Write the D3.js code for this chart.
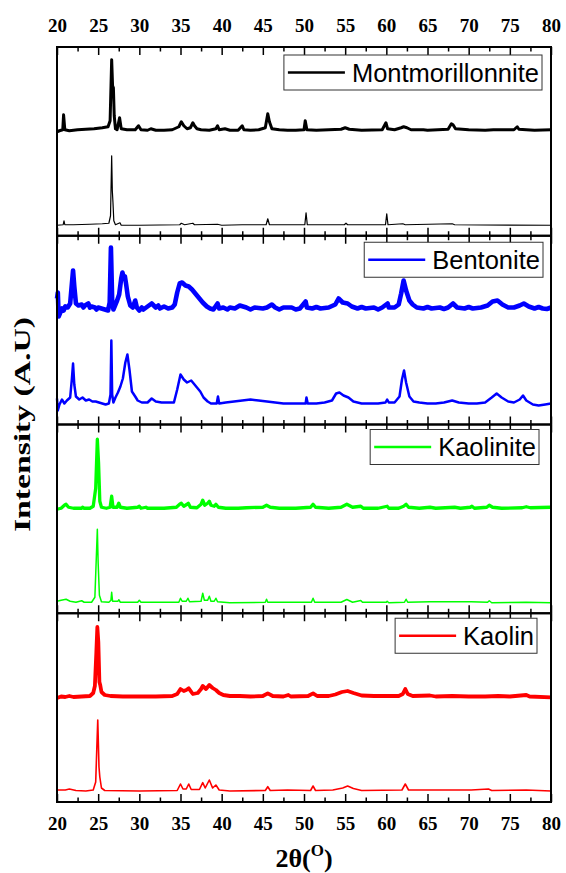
<!DOCTYPE html>
<html><head><meta charset="utf-8">
<script src="https://cdn.jsdelivr.net/npm/d3@7"></script>
<style>html,body{margin:0;padding:0;background:#fff;}svg{display:block;}</style>
</head><body><div id="chart"></div>
<script>
// ---------- DATA (2θ in degrees, intensity in arbitrary units) ----------
const majorTicks = [20,25,30,35,40,45,50,55,60,65,70,75,80];
const minorTicks = [22.5,27.5,32.5,37.5,42.5,47.5,52.5,57.5,62.5,67.5,72.5,77.5];
const sampleNames = ["Montmorillonnite","Bentonite","Kaolinite","Kaolin"];
const sampleColors = ["#000000","#0000ff","#00ff00","#ff0000"];

const montUpper = [[20,104],[20.3,105],[20.7,106],[20.8,121],[20.95,106],[21.5,105],[22.5,106],[23.5,106.5],[24.5,107],[25.5,108],[26.2,109],[26.45,115],[26.64,176],[26.75,150],[26.85,148],[26.95,120],[27.1,107],[27.3,106],[27.6,118],[27.8,107],[28.5,106],[29.5,106],[29.9,110],[30.2,106],[31,105.5],[31.4,107],[32,105.5],[33,105.5],[34,106],[34.8,109],[35.1,114],[35.4,110],[35.8,107],[36.2,108],[36.5,113],[36.7,110],[37,107],[37.5,106],[38.5,105.5],[39.3,107],[39.5,110],[39.7,106],[40.4,107],[41,105.5],[42,105.5],[42.5,110],[42.7,106],[43.5,105.5],[44.5,106],[45.3,108],[45.6,122],[45.8,114],[46.1,107],[47,106],[48,105.5],[49,105.5],[50,106],[50.15,115],[50.35,106],[51.5,105.5],[53,106],[54.5,106.5],[55,108],[55.5,106.5],[57,105.5],[59.5,106],[59.95,113],[60.15,107],[61,106],[61.8,108],[62.1,109],[62.5,108],[63,106],[64.5,106],[65,105.5],[67.5,106.5],[67.9,112],[68.1,111],[68.4,107],[70,106],[72,105.5],[73,106],[75.5,106],[75.9,109],[76.1,106.5],[77,106],[78,105.5],[80,106]];
const montLower = [[20,10.5],[20.75,11],[20.85,15],[20.95,11],[22,11],[24,11.5],[25.5,12],[26.3,12.5],[26.5,20],[26.64,80],[26.72,45],[26.8,33],[26.9,15],[27.1,11],[27.65,13],[27.8,10.5],[30,10.5],[34.9,11],[35.1,12.5],[35.5,11],[36.5,12.5],[36.7,11],[39.5,11.5],[40,10.5],[42.5,11],[45.4,11],[45.6,17],[45.8,11],[50.1,11],[50.25,23],[50.4,11],[54.9,11],[55.1,12.5],[55.3,11],[59.9,11],[60.05,22],[60.2,11],[62,12],[62.3,11],[68,12],[68.3,11],[80,10.5]];

const bentUpper = [[20.0,126],[20.1,132],[20.2,108],[20.4,112],[20.6,116],[20.8,114],[21.0,118],[21.3,117],[21.6,121],[21.8,140],[21.95,154],[22.1,138],[22.3,121],[22.6,119],[23.0,120],[23.2,117],[23.4,119],[23.8,121],[24.0,117],[24.2,118],[24.6,117],[24.8,115],[25.0,117],[25.4,116],[25.8,115],[26.2,114],[26.4,122],[26.55,177],[26.7,124],[26.85,115],[27.1,120],[27.3,124],[27.55,130],[27.8,146],[27.95,152],[28.1,147],[28.25,148],[28.4,140],[28.6,128],[28.9,119],[29.2,117],[29.5,124],[29.7,117],[30.0,114],[30.3,117],[30.5,115],[31.0,118],[31.5,121],[32.0,117],[32.3,119],[32.5,116],[33.0,118],[33.5,116],[34.0,117],[34.3,120],[34.6,132],[34.9,141],[35.2,142],[35.6,139],[36.0,138],[36.4,135],[36.8,131],[37.2,127],[37.7,122],[38.2,118],[38.6,116],[39.0,115],[39.5,121],[39.7,116],[40.2,117],[40.7,115],[41.0,117],[41.6,116],[42.2,119],[43,117],[43.5,115],[44,117],[45,116],[45.5,117],[46.1,120],[46.5,117],[47.0,115],[47.5,117],[48.5,117],[49.0,115],[49.5,116],[50.2,123],[50.35,117],[51,116],[51.5,117.5],[52,116],[53,117],[53.8,120],[54.2,126],[54.7,122],[55.3,121],[55.8,118],[56.5,116],[57.0,117.5],[57.5,116],[58.5,117],[59.0,115],[59.5,117],[60.15,121],[60.3,117],[61,117],[61.5,120],[61.8,131],[62.1,144],[62.4,134],[62.8,124],[63.2,120],[63.7,117],[64.5,116],[65.0,117.5],[65.5,116],[66.5,117],[67.0,115.5],[67.5,117],[68.1,121],[68.6,117],[69.5,116],[70.0,117.5],[70.5,116],[71.5,117],[72.3,119],[72.9,123],[73.5,124],[74.1,120],[74.8,117],[75.5,117],[76.2,119],[76.7,121],[77.3,118],[78,116],[78.5,117.5],[79,116],[79.5,115.5],[80,117]];
const bentLower = [[20.0,26],[20.1,14],[20.3,20],[20.6,25],[20.9,21],[21.2,24],[21.6,27],[21.8,45],[21.95,61],[22.1,40],[22.3,28],[22.7,25],[23.1,27],[23.5,24],[23.9,25],[24.3,23],[24.7,23],[25.1,22],[25.5,21],[25.9,20],[26.3,21],[26.5,30],[26.6,84],[26.7,30],[26.85,22],[27.1,27],[27.4,32],[27.7,38],[28.0,46],[28.3,62],[28.55,70],[28.8,55],[29.1,33],[29.5,28],[29.8,24],[30.3,22],[31.0,22],[31.5,26],[32,23],[32.7,22],[33.5,22],[34.2,22],[34.6,35],[35.0,50],[35.4,45],[35.8,42],[36.3,44],[36.7,40],[37.0,37],[37.4,33],[37.8,27],[38.3,23],[38.7,21],[39.4,21],[39.55,28],[39.7,21],[40.5,22],[41.5,23],[42.5,24],[43.5,25],[44.5,24],[45.5,23],[46.5,22],[47.5,21],[48.5,21],[49.5,21],[50.2,21],[50.3,27],[50.45,21],[51.5,21],[52.5,22],[53.4,24],[53.9,31],[54.3,32],[54.8,29],[55.4,27],[56,23],[57,21],[58,21],[59,21],[59.9,22],[60.1,25],[60.3,22],[61,22],[61.6,28],[61.9,45],[62.15,54],[62.4,42],[62.8,28],[63.3,23],[64,22],[65,21],[66,21],[67,22],[68,24],[68.8,22],[70,21],[71,21],[72,22],[72.8,27],[73.4,31],[74,27],[74.8,23],[75.5,22],[76.2,25],[76.6,29],[77,24],[77.8,20],[78.5,19],[79.3,20],[80,21]];

const kaoliniteUpper = [[20,104],[20.5,105],[20.9,108],[21.1,109],[21.4,106],[22,105],[23,105],[23.1,106],[23.3,105],[24,105],[24.4,107],[24.7,125],[24.9,174],[25.05,150],[25.2,112],[25.4,106],[26,105],[26.45,106],[26.64,117],[26.8,106],[27.3,106],[27.5,110],[27.7,106],[28.5,105],[29.8,106],[30.0,107],[30.2,105],[30.8,106],[31,105],[33,105],[34.5,106],[34.9,109],[35.1,110],[35.4,107],[35.8,109],[35.95,110],[36.2,106],[37,105.5],[37.5,109],[37.7,113],[37.95,108],[38.3,110],[38.5,112],[38.7,108],[39.1,107],[39.3,109],[39.6,106],[40.5,105],[42,105],[43,105.5],[45,106],[45.45,108],[45.9,106],[47,105],[49,105],[50.8,106],[51.1,109],[51.4,106],[53,105],[54.5,106],[55.2,109],[55.9,106],[56.9,107],[57.2,105],[59,105],[60.1,107],[60.3,105],[61.5,105],[62.1,107],[62.4,109],[62.7,106],[64,105],[65.3,106],[66,105],[68.3,106],[69,105],[70.2,106],[70.4,107],[70.7,105],[72.2,106],[72.5,108],[72.9,106],[74,105],[76.5,105.5],[77,106.5],[77.5,105.5],[80,106]];
const kaoliniteLower = [[20,12],[20.5,13],[21.1,14],[21.6,12],[22.3,11],[23.0,12.5],[23.3,11],[24.2,11],[24.6,16],[24.9,84],[25.0,50],[25.15,18],[25.4,11.5],[26.3,11],[26.55,13],[26.64,21],[26.75,12],[27.4,12],[27.5,13.5],[27.7,11],[29.8,11],[30,13],[30.2,11],[34.8,11],[35.0,15],[35.2,12],[35.7,12],[35.9,15],[36.1,11.5],[37.5,12],[37.7,20],[37.9,13],[38.3,13],[38.5,17],[38.7,12],[39.1,12],[39.3,15],[39.5,11.5],[41,10.5],[45.3,11],[45.45,14],[45.6,11],[50.9,11],[51.1,15],[51.3,11],[54.5,11],[55.2,13.7],[55.9,11],[56.9,12.7],[57.1,11],[60.0,11],[60.1,12],[60.3,10.5],[62.2,11],[62.4,14],[62.6,11],[65.3,11.5],[70.3,11.5],[72.3,11],[72.5,12.5],[72.8,10.5],[77,11],[80,10.5]];

const kaolinUpper = [[20,104],[20.5,105.5],[21,105],[21.5,106],[22,105],[23,105.5],[24,106],[24.4,109],[24.6,116],[24.78,150],[24.9,175],[25.02,160],[25.15,120],[25.25,117],[25.4,110],[25.8,107],[26.5,106],[28,105.5],[30,105.5],[32,105.5],[34,106],[34.6,108],[35.0,113],[35.4,111],[35.7,112],[36.0,113.7],[36.5,108],[37.1,109],[37.5,113],[37.7,116],[38.1,113],[38.5,117],[38.9,114],[39.3,112],[39.7,109],[40.2,107],[41,106],[42.2,106],[43.5,105.5],[45,106],[45.6,108.7],[46.2,106],[47.5,105.5],[48.1,107],[48.4,105.5],[50.5,106],[51.1,108.7],[51.6,106],[53,106],[53.8,107.5],[54.6,110],[55.3,111],[56,109],[57,106.5],[58.5,106],[60,106],[61.5,106],[62,108],[62.3,113],[62.6,108],[63.2,106],[65.3,106.5],[66,105.5],[68,106],[70,105.5],[72,105.5],[73.6,106],[75,105.5],[77,107],[77.4,105.5],[80,104.7]];
const kaolinLower = [[20,12],[21,12],[21.5,13],[22.3,11.5],[23.5,11],[24.4,12],[24.7,20],[24.95,82],[25.1,35],[25.2,25],[25.4,14],[25.8,11.5],[30,11],[34.6,11.5],[35.0,18],[35.3,13],[35.7,13],[36.0,18],[36.3,12.5],[37.3,12.5],[37.7,19.3],[38.0,14],[38.5,22],[38.9,14],[39.3,17],[39.7,12],[41,11],[45.3,11.5],[45.6,15.3],[45.9,11.5],[48,12],[50.8,11.5],[51.1,16],[51.4,11.5],[53.5,12],[54.7,14],[55.3,16],[56,13.5],[57,11.5],[61.9,12],[62.3,18],[62.7,12],[65.3,12],[70.3,12],[72.4,13],[72.8,11.5],[77,12],[80,11]];

const upperSeries = [montUpper, bentUpper, kaoliniteUpper, kaolinUpper];
const lowerSeries = [montLower, bentLower, kaoliniteLower, kaolinLower];

// ---------- LAYOUT ----------
const W = 566, H = 873;
const plotLeft = 57, plotRight = 551, plotTop = 47, plotBottom = 802;
const panelH = (plotBottom - plotTop) / 4;
const upperWidth = [3.0, 4.6, 3.3, 3.8];
const lowerWidth = [1.2, 2.5, 1.5, 1.6];
const legendRight = [542, 543, 539, 537];
const legendTopOff = [8, 6.5, 5, 5];

const svg = d3.select("#chart").append("svg").attr("width", W).attr("height", H);
const x = d3.scaleLinear().domain([20, 80]).range([plotLeft, plotRight]);

sampleNames.forEach((name, i) => {
  const pTop = plotTop + i * panelH, pBot = pTop + panelH;
  const y = d3.scaleLinear().domain([0, panelH]).range([pBot, pTop]);
  const g = svg.append("g");
  const line = d3.line().x(d => x(d[0])).y(d => y(d[1]));
  g.append("path").datum(lowerSeries[i]).attr("d", line)
    .attr("fill", "none").attr("stroke", sampleColors[i])
    .attr("stroke-width", lowerWidth[i]).attr("stroke-linejoin", "round");
  g.append("path").datum(upperSeries[i]).attr("d", line)
    .attr("fill", "none").attr("stroke", sampleColors[i])
    .attr("stroke-width", upperWidth[i]).attr("stroke-linejoin", "round");

  const addTicks = (vals, len) => {
    g.append("g").attr("transform", `translate(0,${pTop})`)
      .call(d3.axisBottom(x).tickValues(vals).tickSize(len).tickFormat(""))
      .call(a => a.select(".domain").remove())
      .selectAll("line").attr("stroke", "#000").attr("stroke-width", 1.5);
    g.append("g").attr("transform", `translate(0,${pBot})`)
      .call(d3.axisTop(x).tickValues(vals).tickSize(len).tickFormat(""))
      .call(a => a.select(".domain").remove())
      .selectAll("line").attr("stroke", "#000").attr("stroke-width", 1.5);
  };
  addTicks(majorTicks, 8);
  addTicks(minorTicks, 4.5);

  g.append("rect").attr("x", plotLeft).attr("y", pTop).attr("width", plotRight - plotLeft).attr("height", panelH)
    .attr("fill", "none").attr("stroke", "#000").attr("stroke-width", 2);

  const lg = svg.append("g");
  const txt = lg.append("text").text(name)
    .attr("font-family", "Liberation Sans, Arial, sans-serif").attr("font-size", 25.5)
    .attr("fill", "#000");
  const tw = txt.node().getComputedTextLength();
  const bx1 = legendRight[i], bh = 35, bw = 4 + 57 + 7 + tw + 3;
  const bx0 = bx1 - bw, by0 = pTop + legendTopOff[i];
  lg.insert("rect", "text").attr("x", bx0).attr("y", by0).attr("width", bw).attr("height", bh)
    .attr("fill", "#fff").attr("stroke", "#333").attr("stroke-width", 1);
  lg.append("line").attr("x1", bx0 + 4).attr("x2", bx0 + 61)
    .attr("y1", by0 + bh / 2).attr("y2", by0 + bh / 2)
    .attr("stroke", sampleColors[i]).attr("stroke-width", 2.7);
  txt.attr("x", bx0 + 68).attr("y", by0 + bh / 2 + 9);
});

const fmt = d3.format("d");
svg.append("g").attr("transform", `translate(0,${plotTop})`)
  .call(d3.axisTop(x).tickValues(majorTicks).tickSize(0).tickPadding(15).tickFormat(fmt))
  .call(a => a.select(".domain").remove())
  .selectAll("text").attr("font-family", "Liberation Serif, Times New Roman, serif")
  .attr("font-weight", "bold").attr("font-size", 19).attr("fill", "#000");
svg.append("g").attr("transform", `translate(0,${plotBottom})`)
  .call(d3.axisBottom(x).tickValues(majorTicks).tickSize(0).tickPadding(15).tickFormat(fmt))
  .call(a => a.select(".domain").remove())
  .selectAll("text").attr("font-family", "Liberation Serif, Times New Roman, serif")
  .attr("font-weight", "bold").attr("font-size", 19).attr("fill", "#000");

const xt = svg.append("text").attr("x", (plotLeft + plotRight) / 2).attr("y", 867)
  .attr("text-anchor", "middle").attr("font-family", "Liberation Serif, Times New Roman, serif")
  .attr("font-weight", "bold").attr("font-size", 26).attr("fill", "#000");
xt.append("tspan").text("2θ(");
xt.append("tspan").text("O").attr("font-size", 17).attr("dy", -11);
xt.append("tspan").text(")").attr("dy", 11);

svg.append("text").attr("transform", `translate(30,${(plotTop + plotBottom) / 2}) rotate(-90)`)
  .attr("text-anchor", "middle").attr("font-family", "Liberation Serif, Times New Roman, serif")
  .attr("font-weight", "bold").attr("font-size", 23).attr("fill", "#000")
  .attr("textLength", 215).attr("lengthAdjust", "spacingAndGlyphs")
  .text("Intensity (A.U)");
</script></body></html>
